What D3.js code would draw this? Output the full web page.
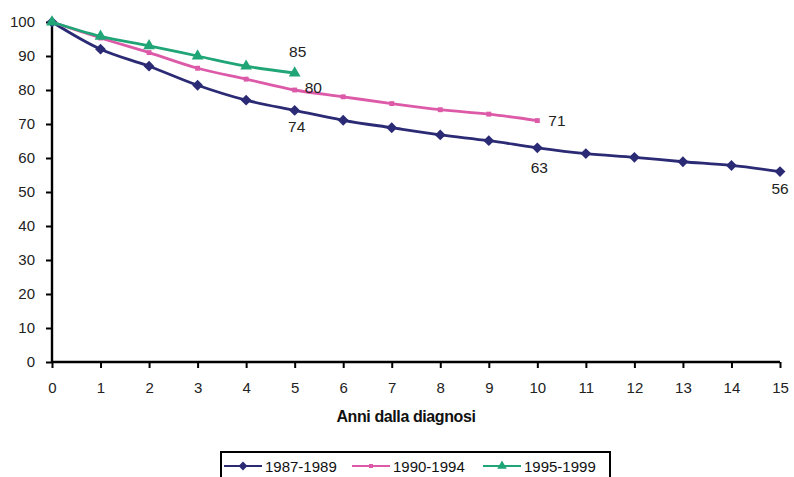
<!DOCTYPE html>
<html>
<head>
<meta charset="utf-8">
<script src="https://cdn.jsdelivr.net/npm/d3@7/dist/d3.min.js"></script>
<style>
  html, body { margin: 0; padding: 0; background: #ffffff; }
  svg { display: block; font-family: "Liberation Sans", Arial, sans-serif; }
</style>
</head>
<body>
<svg id="chart" width="794" height="477"></svg>
<script>
// Survival (%) by years since diagnosis, for three diagnosis periods
const years = d3.range(0, 16);
const yTicks = [0, 10, 20, 30, 40, 50, 60, 70, 80, 90, 100];
const series1987 = [100, 92, 87, 81.4, 77, 74, 71.1, 68.9, 66.8, 65.1, 63, 61.3, 60.2, 58.9, 57.8, 56];
const series1990 = [100, 95.3, 91, 86.4, 83.2, 80, 78, 76, 74.2, 72.9, 71];
const series1995 = [100, 95.8, 93, 90, 87, 85];
const seriesNames = ["1987-1989", "1990-1994", "1995-1999"];
const seriesColors = ["#2b2a74", "#dc5aa8", "#20a577"];
// value labels: [series index, year, text]
const endLabels = [
  [2, 5, "85"], [1, 5, "80"], [0, 5, "74"],
  [1, 10, "71"], [0, 10, "63"], [0, 15, "56"]
];

const svg = d3.select("#chart");
const x = d3.scaleLinear().domain([0, 15]).range([52, 780]);
const y = d3.scaleLinear().domain([0, 100]).range([362, 22]);

// y axis
const yAxis = svg.append("g")
  .attr("transform", `translate(${x(0)},0)`)
  .call(d3.axisLeft(y).tickValues(yTicks).tickSize(6).tickPadding(11));
yAxis.select(".domain").attr("stroke", "#000").attr("stroke-width", 2.4)
  .attr("d", `M0,${y(0)}V${y(100)}`);
yAxis.selectAll(".tick line").attr("stroke", "#000").attr("stroke-width", 2);
yAxis.selectAll(".tick text").attr("font-size", 15).attr("fill", "#222")
  .attr("font-family", "Liberation Sans, Arial, sans-serif");

// x axis
const xAxis = svg.append("g")
  .attr("transform", `translate(0,${y(0)})`)
  .call(d3.axisBottom(x).tickValues(years).tickFormat(d3.format("d")).tickSize(6).tickPadding(14));
xAxis.select(".domain").attr("stroke", "#000").attr("stroke-width", 2.4)
  .attr("d", `M${x(0)},0H${x(15)}`);
xAxis.selectAll(".tick line").attr("stroke", "#000").attr("stroke-width", 2);
xAxis.selectAll(".tick text").attr("font-size", 15).attr("fill", "#222")
  .attr("font-family", "Liberation Sans, Arial, sans-serif");

svg.append("text")
  .attr("x", 406).attr("y", 422)
  .attr("text-anchor", "middle")
  .attr("font-size", 16).attr("font-weight", "bold")
  .attr("letter-spacing", -0.4)
  .attr("fill", "#111")
  .text("Anni dalla diagnosi");

const allSeries = [series1987, series1990, series1995];
const line = d3.line()
  .x((d, i) => x(years[i]))
  .y(d => y(d))
  .curve(d3.curveCatmullRom.alpha(0.5));

const symbols = [
  d3.symbol().type(d3.symbolDiamond2).size(75),
  d3.symbol().type(d3.symbolSquare).size(24),
  d3.symbol().type(d3.symbolTriangle).size(60)
];

allSeries.forEach((vals, s) => {
  svg.append("path")
    .datum(vals)
    .attr("fill", "none")
    .attr("stroke", seriesColors[s])
    .attr("stroke-width", 2.8)
    .attr("d", line);
  svg.append("g").selectAll("path")
    .data(vals)
    .join("path")
    .attr("transform", (d, i) => `translate(${x(years[i])},${y(d)})`)
    .attr("d", symbols[s]())
    .attr("fill", seriesColors[s]);
});

// value labels
const labelOffsets = {
  "2-5": [3, -16, "middle"],
  "1-5": [10, 3, "start"],
  "0-5": [2, 22, "middle"],
  "1-10": [11, 5, "start"],
  "0-10": [2, 25, "middle"],
  "0-15": [0, 22, "middle"]
};
endLabels.forEach(([s, yr, txt]) => {
  const v = allSeries[s][years.indexOf(yr)];
  const off = labelOffsets[`${s}-${yr}`];
  svg.append("text")
    .attr("x", x(yr) + off[0])
    .attr("y", y(v) + off[1])
    .attr("text-anchor", off[2])
    .attr("font-size", 15.5)
    .attr("fill", "#222")
    .text(txt);
});

// legend
const legend = svg.append("g");
legend.append("rect")
  .attr("x", 221).attr("y", 452).attr("width", 389).attr("height", 28)
  .attr("fill", "#fff").attr("stroke", "#000").attr("stroke-width", 2);
const legendX = [224, 352, 483];
seriesNames.forEach((name, s) => {
  const lx = legendX[s];
  const ly = 466;
  legend.append("line")
    .attr("x1", lx).attr("x2", lx + 38).attr("y1", ly).attr("y2", ly)
    .attr("stroke", seriesColors[s]).attr("stroke-width", 2.2);
  legend.append("path")
    .attr("transform", `translate(${lx + 19},${ly})`)
    .attr("d", d3.symbol().type([d3.symbolDiamond2, d3.symbolSquare, d3.symbolTriangle][s]).size([50, 16, 40][s])())
    .attr("fill", seriesColors[s]);
  legend.append("text")
    .attr("x", lx + 41).attr("y", ly + 5.5)
    .attr("font-size", 15).attr("fill", "#111")
    .text(name);
});
</script>
</body>
</html>
